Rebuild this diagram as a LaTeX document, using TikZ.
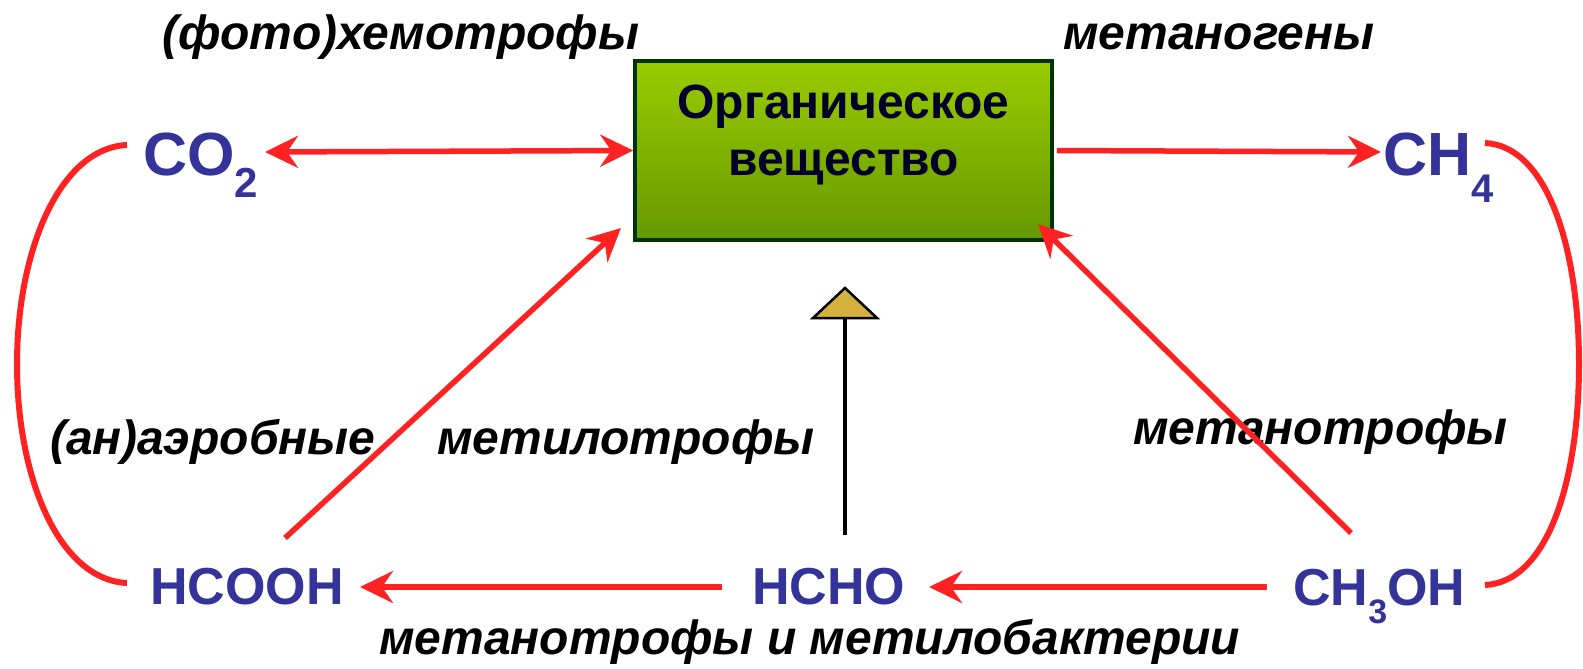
\documentclass[tikz,border=0pt]{standalone}
\usepackage{fontspec}
\setmainfont{Liberation Sans}
\usetikzlibrary{arrows.meta,calc}
\definecolor{arrred}{RGB}{255,34,34}
\definecolor{chemblue}{RGB}{51,51,153}
\definecolor{boxtop}{RGB}{153,204,0}
\definecolor{boxbot}{RGB}{102,153,0}
\definecolor{boxline}{RGB}{0,51,0}
\definecolor{boxtext}{RGB}{0,0,40}
\definecolor{trifill}{RGB}{212,176,60}
\tikzset{
  arr/.style={draw=arrred, line width=5.5pt, -{Stealth[length=33pt,width=32pt,inset=11pt]}},
  biarr/.style={draw=arrred, line width=5.5pt, {Stealth[length=33pt,width=32pt,inset=11pt]}-{Stealth[length=33pt,width=32pt,inset=11pt]}},
  curveline/.style={draw=arrred, line width=6pt},
  chembig/.style={text=chemblue, inner sep=0pt, font=\fontsize{61}{61}\selectfont\bfseries, anchor=base west},
  chemsmall/.style={text=chemblue, inner sep=0pt, font=\fontsize{52}{52}\selectfont\bfseries, anchor=base west},
  lbl/.style={text=black, inner sep=0pt, font=\fontsize{48}{48}\selectfont\bfseries\itshape, anchor=base west},
  orgbox/.style={draw=boxline, line width=3.5pt, top color=boxtop, bottom color=boxbot, minimum width=417pt, minimum height=179pt, inner sep=0pt},
  boxtxt/.style={text=boxtext, font=\fontsize{48}{57}\selectfont\bfseries, align=center, inner sep=0pt},
}
\begin{document}
\begin{tikzpicture}[x=1pt,y=-1pt]
\useasboundingbox (0,0) rectangle (1583,669);
\fill[white] (0,0) rectangle (1583,669);

% central box
\node[orgbox] (box) at (843.5,150.5) {};
\node[boxtxt, anchor=base] (boxt) at (843.5,175) {Органическое\\вещество};

% chemicals
\node[chembig] (co2) at (143,175) {CO\raisebox{-22pt}{\fontsize{42}{42}\selectfont 2}};
\node[chembig] (ch4) at (1383,175) {CH\raisebox{-27pt}{\fontsize{40}{40}\selectfont 4}};
\node[chemsmall] (hcooh) at (150,604) {HCOOH};
\node[chemsmall] (hcho) at (752,604) {HCHO};
\node[chemsmall] (ch3oh) at (1293,605) {CH\raisebox{-18pt}{\fontsize{34}{34}\selectfont 3}OH};

% labels
\node[lbl] (l1) at (162,50) {(фото)хемотрофы};
\node[lbl] (l2) at (1063,50) {метаногены};
\node[lbl] (l3) at (50,454) {(ан)аэробные};
\node[lbl] (l4) at (437,454) {метилотрофы};
\node[lbl] (l5) at (1133,444) {метанотрофы};
\node[lbl] (l6) at (379,654) {метанотрофы и метилобактерии};

% arrow end coordinates
\coordinate (co2r) at (265,152);
\coordinate (ch4l) at (1381,152);
\coordinate (hcoohtr) at (285,538);
\coordinate (hcoohr) at (360,587);
\coordinate (hchol) at (722,587);
\coordinate (hchor) at (929,587);
\coordinate (ch3ohl) at (1267,587);
\coordinate (ch3ohtl) at (1351,533);
\coordinate (hchot) at (845,535);
\coordinate (boxsw) at (621,228);
\coordinate (boxse) at (1038,224);

% arrows
\draw[biarr] (co2r) -- (box.west);
\draw[arr] ($(box.east)+(3,0)$) -- (ch4l);
\draw[arr] (hcoohtr) -- (boxsw);
\draw[arr] (ch3ohtl) -- (boxse);
\draw[arr] (hchol) -- (hcoohr);
\draw[arr] (ch3ohl) -- (hchor);

% triangle marker
\coordinate (triapex) at (845,288);
\draw[black, line width=3.5pt] (hchot) -- (845,318);
\draw[black, line width=2.5pt, fill=trifill, line join=miter] (813,318) -- (triapex) -- (877,318) -- cycle;

% curves
\draw[curveline] (127,145) .. controls (60,148) and (17,250) .. (17,364) .. controls (17,480) and (60,580) .. (127,583);
\draw[curveline] (1485,143) .. controls (1548,146) and (1579,250) .. (1579,364) .. controls (1579,480) and (1548,582) .. (1485,585);
\end{tikzpicture}
\end{document}
